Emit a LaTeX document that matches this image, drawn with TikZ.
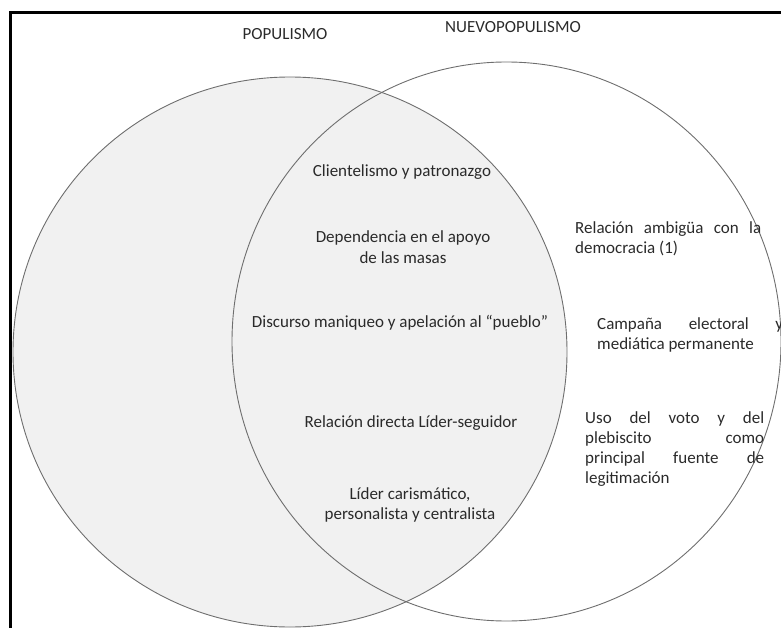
\documentclass[tikz,border=0pt]{standalone}
\usepackage{fontspec}
\setmainfont{Carlito}
\definecolor{venngray}{HTML}{F1F1F1}
\definecolor{edgegray}{HTML}{6E6E6E}
\definecolor{txt}{HTML}{2A2A2A}
\begin{document}
\begin{tikzpicture}[x=1pt,y=-1pt,
  lbl/.style={text=txt,font=\fontsize{17}{20.7}\selectfont,inner sep=0pt},
  midtxt/.style={lbl,align=center},
  righttxt/.style={lbl,align=justify,anchor=north west,font=\fontsize{17}{20}\selectfont}]
\useasboundingbox (0,0) rectangle (781,628);
% left set (filled), right set (outline only)
\fill[venngray] (290,352) ellipse [x radius=277, y radius=275];
\draw[edgegray,line width=0.9pt] (506.5,341.5) ellipse [x radius=274.5, y radius=279.5];
\draw[edgegray,line width=0.9pt] (290,352) ellipse [x radius=277, y radius=275];
% frame
\draw[line width=3pt] (10.5,640) -- (10.5,12.5) -- (795,12.5);
% titles
\node[lbl] (tpop) at (285,34) {POPULISMO};
\node[lbl] (tnuevo) at (513,27) {NUEVOPOPULISMO};
% shared features
\node[midtxt] (c1) at (402,172) {Clientelismo y patronazgo};
\node[midtxt] (c2) at (403,247) {Dependencia en el apoyo\\de las masas};
\node[midtxt] (c3) at (400,323) {Discurso maniqueo y apelación al “pueblo”};
\node[midtxt] (c4) at (411,423) {Relación directa Líder-seguidor};
\node[midtxt] (c5) at (410,505) {Líder carismático,\\personalista y centralista};
% neopopulism only
\node[righttxt,text width=186pt] (r1) at (575,221) {Relación ambigüa con la\linebreak democracia (1)};
\node[righttxt,text width=186pt] (r2) at (597,317) {Campaña electoral y\linebreak mediática permanente};
\node[righttxt,text width=179pt] (r3) at (585,411) {Uso del voto y del\linebreak plebiscito como\linebreak principal fuente de\linebreak legitimación};
\end{tikzpicture}
\end{document}
